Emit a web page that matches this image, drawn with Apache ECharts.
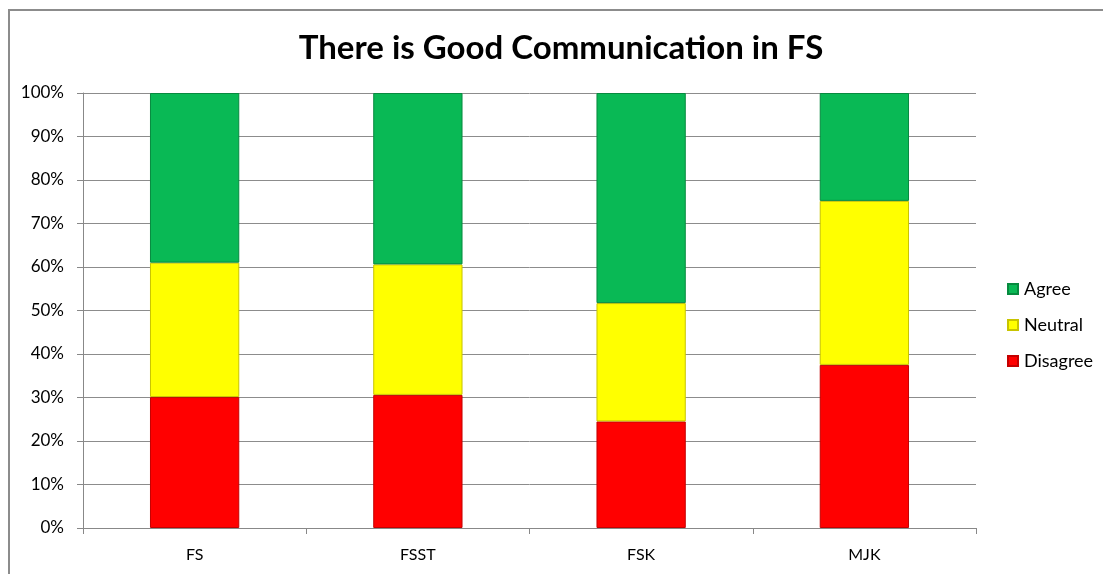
<!DOCTYPE html>
<html>
<head>
<meta charset="utf-8">
<script src="https://cdn.jsdelivr.net/npm/echarts@6/dist/echarts.min.js"></script>
<style>
  html, body { margin: 0; padding: 0; background: #fff; }
  #frame { position: absolute; left: 8px; top: 9px; width: 1200px; height: 700px; border: 2px solid #8c8c8c; border-right: none; border-bottom: none; }
  #chart { position: absolute; left: 0; top: 0; width: 1103px; height: 574px; }
</style>
</head>
<body>
<div id="frame"></div>
<div id="chart"></div>
<script>
  // data (percent)
  const categories = ['FS', 'FSST', 'FSK', 'MJK']
  const disagree = [30.1, 30.6, 24.5, 37.5]
  const neutral = [30.9, 30.0, 27.2, 37.7]
  const agree = [39.0, 39.4, 48.3, 24.8]
  const yTicks = [0, 10, 20, 30, 40, 50, 60, 70, 80, 90, 100]

  const font = 'Lato, "Open Sans", sans-serif'

  function barSeries(name, data, color, edge) {
    return {
      name: name,
      type: 'bar',
      stack: 'total',
      barWidth: '40%',
      data: data,
      itemStyle: {
        color: color,
        borderColor: edge,
        borderWidth: 1
      }
    }
  }

  const chart = echarts.init(document.getElementById('chart'))
  chart.setOption({
    animation: false,
    title: {
      text: 'There is Good Communication in FS',
      left: 556,
      top: 27,
      textAlign: 'center',
      textStyle: { fontFamily: font, fontWeight: 'bold', fontSize: 33, color: '#000' }
    },
    grid: { left: 83, right: 127, top: 93, bottom: 46 },
    legend: {
      orient: 'vertical',
      left: 1007,
      top: 280,
      padding: 0,
      itemWidth: 10,
      itemHeight: 10,
      itemGap: 18,
      icon: 'rect',
      data: ['Agree', 'Neutral', 'Disagree'],
      textStyle: { fontFamily: font, fontSize: 18, color: '#000', padding: [0, 0, 0, 1] }
    },
    xAxis: {
      type: 'category',
      data: categories,
      axisLine: { lineStyle: { color: '#888', width: 1 } },
      axisTick: { show: true, length: 6, lineStyle: { color: '#888' } },
      axisLabel: { fontFamily: font, fontSize: 16, color: '#000', margin: 19 }
    },
    yAxis: {
      type: 'value',
      min: yTicks[0],
      max: yTicks[yTicks.length - 1],
      interval: 10,
      axisLine: { show: true, lineStyle: { color: '#888', width: 1 } },
      axisTick: { show: true, length: 6, lineStyle: { color: '#888' } },
      splitLine: { lineStyle: { color: '#8c8c8c', width: 1 } },
      axisLabel: { fontFamily: font, fontSize: 17, color: '#000', margin: 19, formatter: '{value}%' }
    },
    series: [
      barSeries('Disagree', disagree, '#ff0000', '#c40000'),
      barSeries('Neutral', neutral, '#ffff00', '#c8c400'),
      barSeries('Agree', agree, '#09b955', '#078a3f')
    ]
  })
</script>
</body>
</html>
